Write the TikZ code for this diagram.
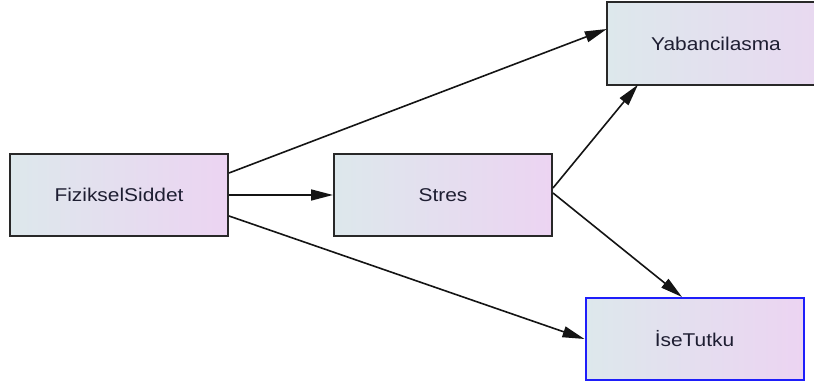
\documentclass[tikz,border=0pt]{standalone}
\usepackage{fontspec}
\setmainfont{Liberation Sans}[FakeStretch=1.13]
\usetikzlibrary{arrows.meta,calc,backgrounds}
\definecolor{boxleft}{RGB}{221,232,236}
\definecolor{boxright}{RGB}{236,212,242}
\definecolor{txt}{RGB}{30,30,50}
\definecolor{blueedge}{RGB}{30,30,250}
\tikzset{
  boxfill/.style={draw={rgb,255:red,40;green,40;blue,40}, line width=2pt,
    shading=axis, shading angle=70, left color=boxleft, right color=boxright},
  boxtext/.style={rectangle, minimum width=218pt, minimum height=82pt, inner sep=0pt,
    text=txt, font=\fontsize{18.5}{22}\selectfont},
  box/.style={boxtext, boxfill},
  bluebox/.style={box, draw=blueedge},
  conn/.style={line width=1.6pt, draw={rgb,255:red,20;green,20;blue,20},
    -{Triangle[length=22pt,width=11pt]}}
}
\begin{document}
\begin{tikzpicture}[x=1pt,y=1pt]
\useasboundingbox (0,0) rectangle (814,387);
\clip (0,0) rectangle (814,387);
\node[box] (F) at (119,192) {FizikselSiddet};
\node[box] (S) at (443,192) {Stres};
\node[boxtext] (Y) at (716,343.5) {Yabancilasma};
\node[bluebox] (I) at (694.5,48) {İseTutku};
\begin{scope}[on background layer]
  \fill[white] (0,0) rectangle (814,387);
  \draw[boxfill] (Y.south west) rectangle ($(Y.north east)+(60,0)$);
\end{scope}
\draw[conn] ($(F.east)+(0,22)$) -- ($(Y.west)+(0,14.5)$);
\draw[conn] (F.east) -- (S.west);
\draw[conn] ($(F.east)+(0,-21)$) -- (I.west);
\draw[conn] ($(S.east)+(0,7)$) -- ($(Y.south)+(-78,0)$);
\draw[conn] ($(S.east)+(0,2)$) -- ($(I.north)+(-12.5,0)$);
\end{tikzpicture}
\end{document}
